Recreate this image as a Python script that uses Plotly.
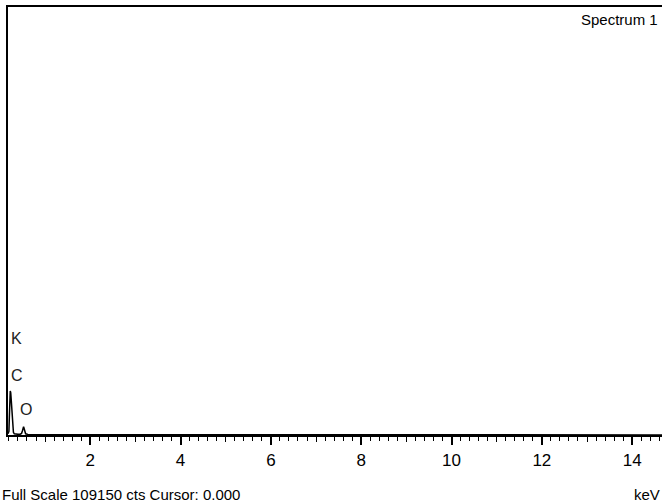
import plotly.graph_objects as go

# EDS spectrum: energy (keV) vs counts
energy_kev = [0.18, 0.20, 0.21, 0.22, 0.23, 0.24, 0.25, 0.26, 0.27, 0.28, 0.29, 0.30,
              0.32, 0.35, 0.40, 0.45, 0.48, 0.50, 0.515, 0.525, 0.535, 0.55, 0.57,
              0.62, 0.8, 1.2, 2.0, 3.0, 4.0, 6.0, 8.0, 10.0, 12.0, 14.0, 14.7]
counts = [300, 900, 4500, 9000, 11200, 10800, 9200, 7600, 6200, 4000, 1800, 700,
          300, 200, 180, 200, 400, 1100, 1900, 2100, 1700, 800, 300,
          150, 120, 100, 90, 80, 70, 60, 50, 40, 40, 30, 30]

full_scale = 109150
x_range = [0.18, 14.66]
major_ticks = [2, 4, 6, 8, 10, 12, 14]
mid_ticks = [1, 3, 5, 7, 9, 11, 13]

# element markers: (label, keV, counts)
peak_labels = [("K", 0.2, 24700), ("C", 0.2, 15300), ("O", 0.40, 6400)]

FONT = "Liberation Sans Narrow, Arial Narrow, Liberation Sans, Arial"

fig = go.Figure()
fig.add_trace(go.Scatter(x=energy_kev, y=counts, mode="lines",
                         line=dict(color="black", width=1.5),
                         hoverinfo="skip", showlegend=False))
# invisible trace so the secondary axis carrying the 1-keV ticks is drawn
fig.add_trace(go.Scatter(x=x_range, y=[0, 0], xaxis="x2", mode="lines",
                         line=dict(width=0), hoverinfo="skip", showlegend=False))

fig.update_layout(
    width=662, height=503,
    margin=dict(l=8, r=0, t=7, b=68),
    paper_bgcolor="white", plot_bgcolor="white",
    font=dict(family=FONT, size=15, color="black"),
    xaxis=dict(
        range=x_range, showgrid=False, zeroline=False,
        showline=True, linecolor="black", linewidth=2, mirror=True,
        tickmode="array", tickvals=major_ticks,
        ticks="outside", ticklen=8, tickwidth=1.5, tickcolor="black",
        ticklabelstandoff=1,
        tickfont=dict(family=FONT, size=17, color="black"),
        minor=dict(dtick=0.2, tick0=0, ticks="outside", ticklen=4,
                   tickwidth=1.2, tickcolor="black"),
    ),
    xaxis2=dict(
        range=x_range, overlaying="x", side="bottom", anchor="y",
        showgrid=False, zeroline=False, showline=False,
        tickmode="array", tickvals=mid_ticks, showticklabels=False,
        ticks="outside", ticklen=6, tickwidth=1.2, tickcolor="black",
    ),
    yaxis=dict(
        range=[0, full_scale], showgrid=False, zeroline=False,
        showline=True, linecolor="black", linewidth=2,
        showticklabels=False, ticks="",
    ),
)

for label, ex, cy in peak_labels:
    fig.add_annotation(x=ex, y=cy, xref="x", yref="y", text=label,
                       showarrow=False, xanchor="left", yanchor="middle",
                       font=dict(family=FONT, size=16, color="#222"))

fig.add_annotation(x=0.997, y=0.970, xref="paper", yref="paper", text="Spectrum 1",
                   showarrow=False, xanchor="right", yanchor="middle",
                   font=dict(family=FONT, size=15, color="black"))

fig.add_annotation(x=-8 / 654, y=-0.138, xref="paper", yref="paper",
                   text=f"Full Scale {full_scale} cts Cursor: 0.000",
                   showarrow=False, xanchor="left", yanchor="middle",
                   font=dict(family=FONT, size=15, color="black"))
fig.add_annotation(x=1.0, y=-0.138, xref="paper", yref="paper",
                   text="keV", showarrow=False, xanchor="right", yanchor="middle",
                   font=dict(family=FONT, size=15, color="black"))

fig.write_html("out.html")
